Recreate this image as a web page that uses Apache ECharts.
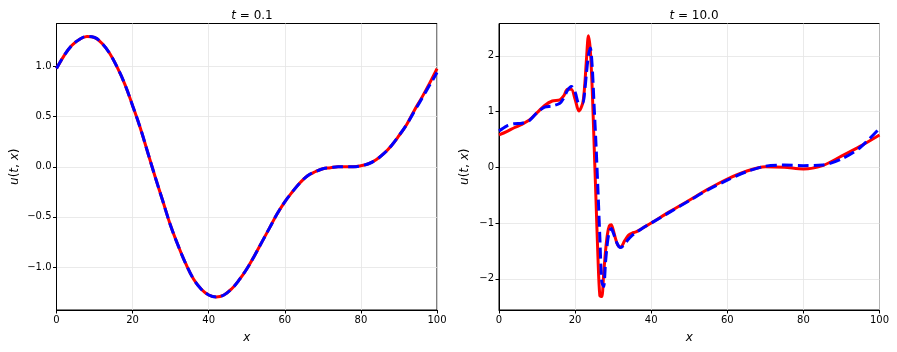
<!DOCTYPE html>
<html>
<head>
<meta charset="utf-8">
<script src="https://cdn.jsdelivr.net/npm/echarts@6/dist/echarts.min.js"></script>
<style>
  html, body { margin: 0; padding: 0; background: #fff; }
  #main { width: 897px; height: 352px; }
</style>
</head>
<body>
<div id="main"></div>
<script>
// left panel, t = 0.1
const xLeft = [0, 2, 4, 6, 8, 10, 12, 14, 16, 18, 20, 22, 24, 26, 28, 30, 32, 34, 36, 38, 40, 42, 44, 46, 48, 50,
    52, 54, 56, 58, 60, 62, 64, 66, 68, 70, 72, 74, 76, 78, 80, 82, 84, 86, 88, 90, 92, 94, 96, 98, 100];
const uLeftTrue = [0.98, 1.11, 1.21, 1.27, 1.30, 1.29, 1.23, 1.13, 0.99, 0.82, 0.61, 0.39, 0.14, -0.11, -0.35,
    -0.59, -0.79, -0.97, -1.12, -1.22, -1.28, -1.30, -1.28, -1.22, -1.13, -1.02, -0.89, -0.75, -0.61, -0.47,
    -0.35, -0.25, -0.16, -0.09, -0.05, -0.02, -0.01, 0.0, 0.0, 0.0, 0.01, 0.03, 0.07, 0.13, 0.21, 0.31, 0.42,
    0.56, 0.69, 0.83, 0.98];
const uLeftPred = [0.98, 1.11, 1.21, 1.27, 1.30, 1.29, 1.23, 1.13, 0.99, 0.82, 0.61, 0.39, 0.14, -0.11, -0.35,
    -0.59, -0.79, -0.97, -1.12, -1.22, -1.28, -1.30, -1.28, -1.22, -1.13, -1.02, -0.89, -0.75, -0.61, -0.47,
    -0.35, -0.25, -0.16, -0.09, -0.05, -0.02, -0.01, 0.0, 0.0, 0.0, 0.01, 0.03, 0.07, 0.13, 0.21, 0.31, 0.42,
    0.55, 0.68, 0.81, 0.94];

// right panel, t = 10.0
const xRight = [0, 2, 4, 6, 8, 10, 12, 14, 16, 17, 18, 19, 20, 21, 22, 22.5, 23, 23.5, 24, 24.5, 25, 25.5, 26,
    26.5, 27, 27.5, 28, 28.5, 29, 29.5, 30, 30.5, 31, 31.5, 32, 33, 34, 35, 36, 38, 40, 45, 50, 55, 60, 65, 70,
    75, 80, 85, 90, 95, 100];
const uRightTrue = [0.58, 0.64, 0.71, 0.77, 0.85, 0.98, 1.11, 1.19, 1.21, 1.28, 1.40, 1.40, 1.22, 1.01, 1.15,
    1.45, 1.95, 2.36, 2.10, 1.40, 0.40, -0.60, -1.60, -2.30, -2.32, -1.92, -1.50, -1.20, -1.05, -1.03, -1.12,
    -1.25, -1.36, -1.42, -1.43, -1.32, -1.22, -1.18, -1.16, -1.08, -1.00, -0.79, -0.59, -0.39, -0.21, -0.07,
    0.01, 0.00, -0.03, 0.03, 0.20, 0.38, 0.58];
const uRightPred = [0.65, 0.74, 0.78, 0.79, 0.84, 0.98, 1.08, 1.10, 1.15, 1.24, 1.38, 1.45, 1.35, 1.15, 1.15,
    1.35, 1.70, 2.00, 2.14, 1.80, 1.10, 0.40, -0.40, -1.25, -2.05, -2.14, -1.70, -1.35, -1.15, -1.10, -1.17,
    -1.27, -1.36, -1.42, -1.44, -1.38, -1.29, -1.22, -1.17, -1.08, -1.00, -0.80, -0.60, -0.40, -0.23, -0.08,
    0.02, 0.04, 0.03, 0.04, 0.15, 0.36, 0.70];

const yTicksLeft = [-1.0, -0.5, 0.0, 0.5, 1.0];
const yTicksRight = [-2, -1, 0, 1, 2];

const font = 'DejaVu Sans';
const pairs = (xs, ys) => xs.map((x, i) => [x, ys[i]]);
const minus = s => String(s).replace('-', '\u2212');

var myChart = echarts.init(document.getElementById('main'), null, { renderer: 'canvas' });

function xAxisFor(idx) {
    return {
        type: 'value', gridIndex: idx, min: 0, max: 100, interval: 20,
        name: '{i|x}', nameLocation: 'middle', nameGap: 22,
        nameTextStyle: { rich: { i: { fontFamily: font, fontStyle: 'italic', fontSize: 12, color: '#000' } } },
        axisLine: { onZero: false, lineStyle: { color: '#000', width: 1 } },
        axisTick: { show: true, inside: false, length: 3.5, lineStyle: { color: '#000' } },
        axisLabel: { fontFamily: font, fontSize: 10, color: '#000', margin: 5 },
        splitLine: { show: true, lineStyle: { color: '#e4e4e4', width: 0.8 } }
    };
}

function yAxisFor(idx, lo, hi, ticks, fmt, gap) {
    return {
        type: 'value', gridIndex: idx, min: lo, max: hi,
        name: '{i|u}({i|t}, {i|x})', nameLocation: 'middle', nameGap: gap, nameRotate: 90,
        nameTextStyle: {
            fontFamily: font, fontSize: 12, color: '#000',
            rich: { i: { fontFamily: font, fontStyle: 'italic', fontSize: 12, color: '#000' } }
        },
        axisLine: { show: true, onZero: false, lineStyle: { color: '#000', width: 1 } },
        axisTick: { show: true, inside: false, length: 3.5, customValues: ticks, lineStyle: { color: '#000' } },
        axisLabel: {
            fontFamily: font, fontSize: 10, color: '#000', margin: 5, customValues: ticks,
            formatter: v => minus(fmt(v))
        },
        splitLine: { show: true, lineStyle: { color: '#e4e4e4', width: 0.8 } }
    };
}

const titleRich = {
    i: { fontFamily: font, fontStyle: 'italic', fontWeight: 'normal', fontSize: 12, color: '#000' },
    n: { fontFamily: font, fontWeight: 'normal', fontSize: 12, color: '#000' }
};

let option = {
    animation: false,
    backgroundColor: '#fff',
    title: [
        { text: '{i|t}{n| = 0.1}', left: 247, top: 5, textAlign: 'center',
          textStyle: { fontWeight: 'normal', rich: titleRich } },
        { text: '{i|t}{n| = 10.0}', left: 689, top: 5, textAlign: 'center',
          textStyle: { fontWeight: 'normal', rich: titleRich } }
    ],
    grid: [
        { left: 56.5, right: 460, top: 23.5, bottom: 42, show: true, borderColor: '#000', borderWidth: 1,
          backgroundColor: 'transparent' },
        { left: 499, right: 17.5, top: 23.5, bottom: 42, show: true, borderColor: '#000', borderWidth: 1,
          backgroundColor: 'transparent' }
    ],
    xAxis: [xAxisFor(0), xAxisFor(1)],
    yAxis: [
        yAxisFor(0, -1.43, 1.43, yTicksLeft, v => v.toFixed(1), 36),
        yAxisFor(1, -2.56, 2.58, yTicksRight, v => v.toFixed(0), 28)
    ],
    series: [
        { type: 'line', xAxisIndex: 0, yAxisIndex: 0, data: pairs(xLeft, uLeftTrue), smooth: 0.4,
          showSymbol: false, lineStyle: { color: '#ff0000', width: 3 } },
        { type: 'line', xAxisIndex: 0, yAxisIndex: 0, data: pairs(xLeft, uLeftPred), smooth: 0.4,
          showSymbol: false, lineStyle: { color: '#0000ff', width: 3, type: [11, 5] } },
        { type: 'line', xAxisIndex: 1, yAxisIndex: 1, data: pairs(xRight, uRightTrue), smooth: 0.3,
          showSymbol: false, lineStyle: { color: '#ff0000', width: 3 } },
        { type: 'line', xAxisIndex: 1, yAxisIndex: 1, data: pairs(xRight, uRightPred), smooth: 0.3,
          showSymbol: false, lineStyle: { color: '#0000ff', width: 3, type: [11, 5] } }
    ]
};
myChart.setOption(option);
</script>
</body>
</html>
